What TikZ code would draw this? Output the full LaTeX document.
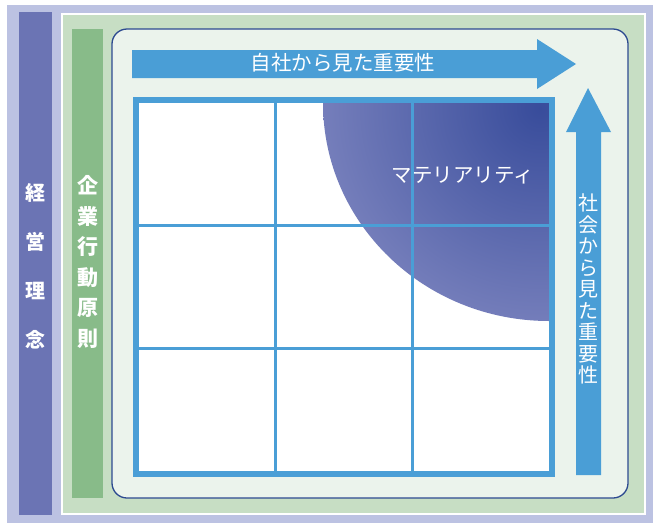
\documentclass[tikz,border=0pt]{standalone}
\usepackage{fontspec}
\newfontfamily\jp{Noto Sans CJK JP}
\definecolor{lav}{HTML}{BCC2E2}
\definecolor{purp}{HTML}{6B74B4}
\definecolor{grnfr}{HTML}{C7DEC4}
\definecolor{grnbar}{HTML}{88BB89}
\definecolor{panel}{HTML}{EBF3EC}
\definecolor{pborder}{HTML}{2D4A90}
\definecolor{arrblue}{HTML}{4A9ED6}
\definecolor{mdark}{HTML}{384C9B}
\definecolor{mlight}{HTML}{8C91C7}
\begin{document}
\begin{tikzpicture}[x=1pt,y=-1pt,
  wtext/.style={text=white,inner sep=0pt,font=\jp\fontsize{20.5}{20.5}\selectfont},
  gridline/.style={draw=arrblue,line width=3pt},
  blockarrow/.style={fill=arrblue,draw=none}]
\useasboundingbox (0,0) rectangle (653,523);
\fill[white] (0,0) rectangle (653,523);
% outer lavender frame
\fill[lav] (7,5) rectangle (653,523);
\node[fill=purp,minimum width=33pt,minimum height=503pt,inner sep=0pt,anchor=north west] (rinen) at (19,12) {};
% green frame
\draw[fill=grnfr,draw=white,line width=2pt] (62,14) rectangle (645,514);
\node[fill=grnbar,minimum width=31pt,minimum height=469pt,inner sep=0pt,anchor=north west] (kodo) at (72,29) {};
% inner panel
\draw[fill=panel,draw=pborder,line width=1.3pt,rounded corners=15pt] (112,29) rectangle (628,498);
% horizontal arrow
\fill[blockarrow] (132,50) -- (537,50) -- (537,39) -- (576,64) -- (537,89) -- (537,78) -- (132,78) -- cycle;
% vertical arrow
\fill[blockarrow] (576,475) -- (576,132) -- (566,132) -- (588,88) -- (611,132) -- (601,132) -- (601,475) -- cycle;
% grid
\fill[white] (139,103) rectangle (549,471);
\begin{scope}
  \clip (139,103) rectangle (549,471);
  \clip (549,103) ellipse [x radius=226, y radius=218];
  \shade[inner color=mdark, outer color=mlight] (540,108) circle (300);
\end{scope}
\draw[gridline] (275.7,103) -- (275.7,471);
\draw[gridline] (412.3,103) -- (412.3,471);
\draw[gridline] (139,225.7) -- (549,225.7);
\draw[gridline] (139,348.3) -- (549,348.3);
\draw[draw=arrblue,line width=6pt] (136,100) rectangle (552,474);
% texts
\node[wtext] (mat) at (463,176) {マテリアリティ};
\node[wtext] (jisha) at (343,63) {自社から見た重要性};
\node[wtext,align=center,font=\jp\fontsize{20}{21.5}\selectfont] (shakai) at (588,289) {社\\会\\か\\ら\\見\\た\\重\\要\\性};
\node[wtext,align=center,font=\jp\bfseries\fontsize{20}{49}\selectfont] (rinentxt) at (35,266) {経\\営\\理\\念};
\node[wtext,align=center,font=\jp\bfseries\fontsize{21}{30.5}\selectfont] (kodotxt) at (88,262) {企\\業\\行\\動\\原\\則};
\end{tikzpicture}
\end{document}
